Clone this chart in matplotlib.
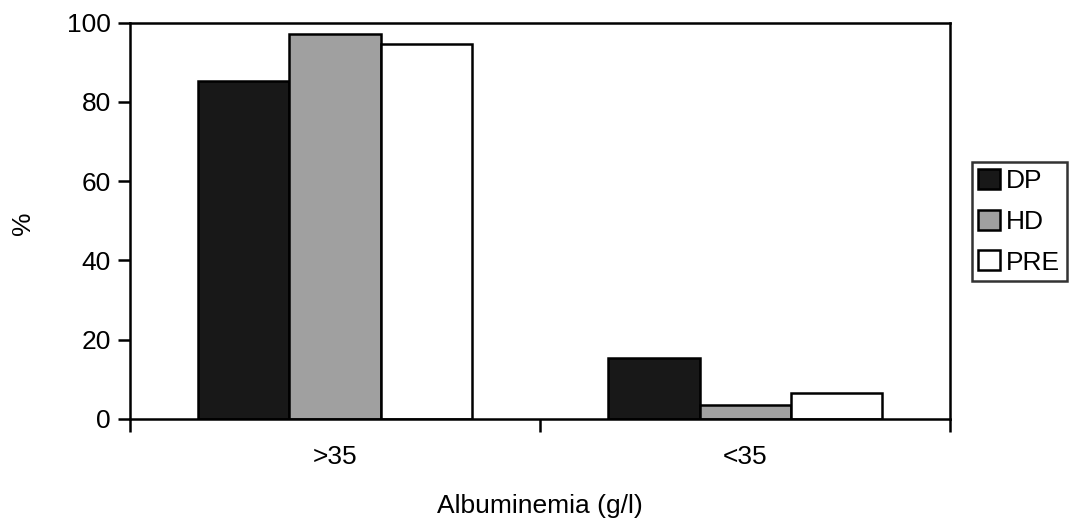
import numpy as np
import matplotlib.pyplot as plt

plt.rcParams['font.family'] = ['Liberation Sans', 'DejaVu Sans']

groups = [">35", "<35"]
series = ["DP", "HD", "PRE"]
dp = [85.4, 15.3]
hd = [97.2, 3.5]
pre = [94.7, 6.6]
colors = ["#181818", "#a0a0a0", "#ffffff"]

fig = plt.figure(figsize=(10.75, 5.29), dpi=100)
ax = fig.add_axes([0.121, 0.208, 0.763, 0.749])

x = np.arange(len(groups))
w = 0.223
for i, (vals, name) in enumerate(zip([dp, hd, pre], series)):
    ax.bar(x + (i - 1) * w, vals, w, color=colors[i], edgecolor="black",
           linewidth=1.8, label=name)

ax.set_xlim(-0.5, 1.5)
ax.set_ylim(0, 100)
ax.set_yticks([0, 20, 40, 60, 80, 100])
ax.set_xticks(x)
ax.set_xticklabels(groups)
ax.set_xticks([-0.5, 0.5, 1.5], minor=True)
ax.tick_params(axis="x", which="major", length=0, pad=19, labelsize=19)
ax.tick_params(axis="x", which="minor", length=9, width=1.8, direction="out")
ax.tick_params(axis="y", length=9, width=1.8, direction="out", labelsize=19, pad=5)
for s in ax.spines.values():
    s.set_linewidth(1.8)

ax.set_xlabel("Albuminemia (g/l)", fontsize=19)
ax.xaxis.set_label_coords(0.5, -0.19)
ax.set_ylabel("%", fontsize=19)
ax.yaxis.set_label_coords(-0.116, 0.495)

leg = fig.legend(loc="upper left", bbox_to_anchor=(0.904, 0.693),
                 fontsize=19, frameon=True, fancybox=False, edgecolor="black",
                 handlelength=0.8, handleheight=0.8, handletextpad=0.25,
                 borderpad=0.25, labelspacing=0.62, borderaxespad=0)
leg.get_frame().set_linewidth(1.8)

fig.savefig("out.png", dpi=100)
